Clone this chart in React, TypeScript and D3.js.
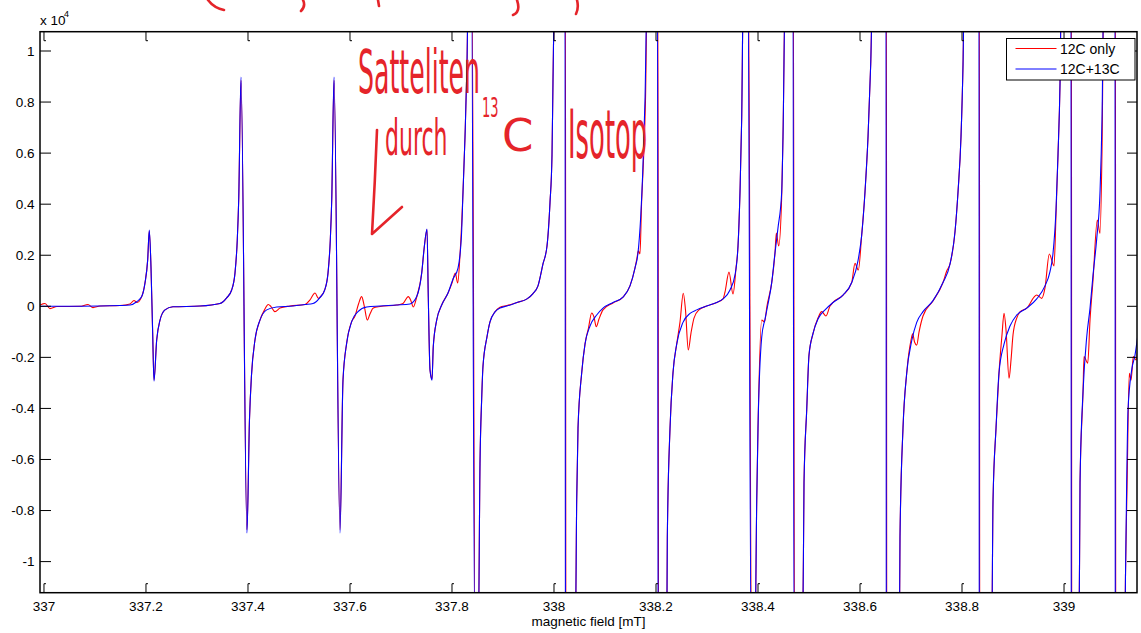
import React from 'react';
import * as d3 from 'd3';

const xTickValues = [337, 337.2, 337.4, 337.6, 337.8, 338, 338.2, 338.4, 338.6, 338.8, 339];
const xTickLabels = ['337', '337.2', '337.4', '337.6', '337.8', '338', '338.2', '338.4', '338.6', '338.8', '339'];
const yTickValues = [-1, -0.8, -0.6, -0.4, -0.2, 0, 0.2, 0.4, 0.6, 0.8, 1];
const yTickLabels = ['-1', '-0.8', '-0.6', '-0.4', '-0.2', '0', '0.2', '0.4', '0.6', '0.8', '1'];
const xDomain: [number, number] = [336.9922, 339.1431];
const yDomain: [number, number] = [-1.1218, 1.0756];
const legendLabels = ['12C only', '12C+13C'];
const seriesColors = ['#ff0000', '#0000ff'];
const xAxisTitle = 'magnetic field [mT]';

// values in units of 10^4
const series12COnly: [number, number][] = [
  [336.99, 0.003], [337.002, 0.011], [337.0118, -0.009], [337.0255, -0.001], [337.0706, 0], [337.0863, 0.007], [337.0961, -0.005], [337.1098, 0.001], [337.149, 0.003], [337.1686, 0.009], [337.1765, 0.023], [337.1824, 0.015], [337.1916, 0.038], [337.198, 0.091], [337.2033, 0.181], [337.2065, 0.295], [337.2098, 0.155], [337.2131, -0.105], [337.2157, -0.288], [337.221, -0.132], [337.2275, -0.054], [337.2373, -0.014], [337.2529, -0.002], [337.3059, 0.001],
  [337.3451, 0.011], [337.3582, 0.033], [337.368, 0.064], [337.3745, 0.13], [337.379, 0.26], [337.3818, 0.416], [337.3863, 0.885], [337.398, -0.875], [337.4029, -0.445], [337.4069, -0.269], [337.4137, -0.132], [337.4235, -0.054], [337.4324, -0.014], [337.4398, 0.007], [337.4451, -0.001], [337.4529, -0.021], [337.4627, -0.007], [337.4824, 0.001], [337.5118, 0.007], [337.5216, 0.025], [337.5314, 0.052], [337.5382, 0.031], [337.5431, 0.04], [337.5504, 0.064], [337.5569, 0.13], [337.5614, 0.26], [337.5642, 0.416], [337.5687, 0.885], [337.5804, -0.875], [337.5863, -0.289], [337.5935, -0.144], [337.6033, -0.06], [337.6098, -0.038], [337.6167, 0.009], [337.6229, 0.038], [337.628, 0.001], [337.6339, -0.054], [337.6392, -0.03], [337.6457, -0.007], [337.6588, -0.001], [337.6916, 0.005], [337.7039, 0.011], [337.7143, 0.038], [337.7196, 0.021], [337.7241, -0.003], [337.7308, 0.036], [337.7406, 0.13], [337.7457, 0.233], [337.751, 0.3], [337.7535, 0.038], [337.7569, -0.249], [337.7608, -0.285], [337.7633, -0.158], [337.77, -0.054], [337.7798, 0.005], [337.7922, 0.052], [337.8, 0.091], [337.8065, 0.13], [337.8112, 0.091], [337.8157, 0.201], [337.8216, 0.448], [337.8255, 0.663], [337.8294, 0.949], [337.8324, 1.3], [337.839, 1.3], [337.8455, -1.3], [337.8516, -1.3],
  [337.8549, -0.618], [337.8582, -0.363], [337.8608, -0.234], [337.8686, -0.12], [337.8745, -0.061], [337.8843, -0.022], [337.8941, -0.004], [337.9078, 0.003], [337.9275, 0.015], [337.9471, 0.029], [337.9588, 0.05], [337.9686, 0.08], [337.9784, 0.166], [337.9863, 0.236], [337.9922, 0.407], [337.9961, 0.593], [337.998, 0.877], [338.002, 1.3], [338.0224, 1.3], [338.0233, -1.3], [338.0418, -1.3],
  [338.0445, -0.759], [338.0471, -0.477], [338.0543, -0.261], [338.0608, -0.148], [338.0676, -0.085], [338.0739, -0.026], [338.0784, -0.042], [338.0829, -0.08], [338.0882, -0.05], [338.0961, -0.014], [338.1157, 0.013], [338.1353, 0.036], [338.149, 0.08], [338.1588, 0.15], [338.1627, 0.189], [338.1653, 0.217], [338.1686, 0.205], [338.1716, 0.397], [338.1755, 0.573], [338.1794, 0.808], [338.1833, 1.3], [338.2037, 1.3], [338.2051, -1.3], [338.221, -1.3],
  [338.2222, -0.904], [338.2275, -0.477], [338.2333, -0.261], [338.2406, -0.148], [338.2471, -0.061], [338.2535, 0.051], [338.2578, -0.014], [338.2633, -0.171], [338.2686, -0.105], [338.2745, -0.046], [338.2843, -0.014], [338.2994, 0.001], [338.319, 0.015], [338.3314, 0.029], [338.3353, 0.056], [338.3431, 0.134], [338.351, 0.048], [338.3569, 0.15], [338.3608, 0.236], [338.3647, 0.449], [338.368, 0.734], [338.3716, 1.3], [338.3812, 1.3], [338.3871, -1.3], [338.3941, -1.3],
  [338.3975, -0.761], [338.4, -0.477], [338.4073, -0.054], [338.4127, -0.061], [338.4176, 0.001], [338.4269, 0.093], [338.4333, 0.209], [338.4359, 0.287], [338.4406, 0.236], [338.4465, 0.436], [338.449, 0.663], [338.4539, 1.3], [338.4694, 1.3], [338.4714, -1.3], [338.4876, -1.3],
  [338.4902, -0.69], [338.4955, -0.406], [338.5, -0.191], [338.5078, -0.107], [338.5176, -0.046], [338.5249, -0.021], [338.5333, -0.038], [338.5412, 0.001], [338.5471, 0.015], [338.5667, 0.044], [338.5837, 0.093], [338.5902, 0.168], [338.5967, 0.142], [338.6033, 0.279], [338.6098, 0.449], [338.6157, 0.663], [338.621, 0.949], [338.6255, 1.3], [338.6518, 1.3], [338.6524, -1.3], [338.6771, -1.3],
  [338.6784, -0.904], [338.6843, -0.477], [338.6916, -0.261], [338.7, -0.132], [338.7033, -0.108], [338.7069, -0.14], [338.7112, -0.152], [338.7157, -0.101], [338.7235, -0.038], [338.7431, 0.021], [338.7627, 0.093], [338.77, 0.138], [338.7765, 0.166], [338.7863, 0.293], [338.7922, 0.449], [338.798, 0.663], [338.802, 0.949], [338.8049, 1.3], [338.8341, 1.3], [338.8347, -1.3], [338.8582, -1.3],
  [338.8608, -0.761], [338.8667, -0.477], [338.8725, -0.261], [338.8784, -0.112], [338.8824, -0.027], [338.8863, -0.093], [338.8922, -0.282], [338.8961, -0.21], [338.9, -0.112], [338.9073, -0.046], [338.9137, -0.022], [338.9269, -0.007], [338.9465, 0.044], [338.9563, 0.031], [338.9627, 0.072], [338.9712, 0.205], [338.9804, 0.158], [338.9843, 0.358], [338.9882, 0.593], [338.9922, 0.877], [338.9951, 1.3], [339.0145, 1.3], [339.0151, -1.3], [339.0294, -1.3],
  [339.0314, -0.69], [339.0373, -0.334], [339.0392, -0.197], [339.0465, -0.223], [339.051, -0.054], [339.0569, 0.103], [339.0653, 0.338], [339.0706, 0.286], [339.0745, 0.612], [339.0784, 1.3], [339.1008, 1.3], [339.1014, -1.3], [339.1192, -1.3],
  [339.1206, -1.045], [339.1235, -0.718], [339.128, -0.262], [339.1314, -0.289], [339.1359, -0.197], [339.1412, -0.21], [339.1457, -0.144],
];

const series12C13C: [number, number][] = [
  [336.99, 0], [337.0706, 0], [337.149, 0.003], [337.1686, 0.005], [337.1818, 0.018], [337.1916, 0.038], [337.198, 0.091], [337.2033, 0.181], [337.2065, 0.299], [337.2098, 0.155], [337.2131, -0.105], [337.2157, -0.293], [337.221, -0.132], [337.2275, -0.054], [337.2373, -0.014], [337.2529, -0.002], [337.3059, 0.001],
  [337.3451, 0.011], [337.3582, 0.033], [337.368, 0.064], [337.3745, 0.13], [337.379, 0.26], [337.3818, 0.416], [337.3863, 0.898], [337.398, -0.888], [337.4029, -0.445], [337.4069, -0.269], [337.4137, -0.132], [337.4235, -0.054], [337.4367, -0.014], [337.4563, -0.003], [337.4882, 0.001], [337.5118, 0.007],
  [337.5275, 0.011], [337.5406, 0.033], [337.5504, 0.064], [337.5569, 0.13], [337.5614, 0.26], [337.5642, 0.416], [337.5687, 0.898], [337.5804, -0.888], [337.5863, -0.289], [337.5935, -0.144], [337.6033, -0.06], [337.6157, -0.021], [337.6327, -0.003], [337.6588, 0.001], [337.6916, 0.005], [337.7176, 0.009],
  [337.7308, 0.038], [337.7406, 0.13], [337.7457, 0.233], [337.751, 0.303], [337.7535, 0.038], [337.7569, -0.249], [337.7608, -0.289], [337.7633, -0.158], [337.77, -0.054], [337.7798, 0.005], [337.7922, 0.052], [337.802, 0.107], [337.8118, 0.15], [337.8186, 0.279], [337.8216, 0.448], [337.8255, 0.663], [337.8294, 0.949], [337.8324, 1.3], [337.8382, 1.3], [337.8447, -1.3], [337.8516, -1.3],
  [337.8549, -0.618], [337.8582, -0.363], [337.8608, -0.234], [337.8686, -0.12], [337.8745, -0.061], [337.8843, -0.022], [337.8941, -0.007], [337.9078, 0.001], [337.9275, 0.015], [337.9471, 0.029], [337.9588, 0.05], [337.9686, 0.08], [337.9784, 0.166], [337.9863, 0.236], [337.9922, 0.407], [337.9961, 0.593], [337.998, 0.877], [338.002, 1.3], [338.0216, 1.3], [338.0225, -1.3], [338.0418, -1.3],
  [338.0445, -0.759], [338.0471, -0.477], [338.0543, -0.261], [338.0608, -0.148], [338.0706, -0.077], [338.0837, -0.034], [338.0961, -0.007], [338.1157, 0.015], [338.1353, 0.036], [338.149, 0.08], [338.1588, 0.15], [338.1647, 0.209], [338.17, 0.35], [338.1739, 0.52], [338.1784, 0.805], [338.1833, 1.3], [338.2029, 1.3], [338.2043, -1.3], [338.221, -1.3],
  [338.2222, -0.904], [338.2275, -0.477], [338.2333, -0.261], [338.2406, -0.148], [338.2529, -0.063], [338.2667, -0.028], [338.2798, -0.014], [338.2994, 0.001], [338.319, 0.015], [338.3314, 0.029], [338.3451, 0.064], [338.3549, 0.123], [338.3608, 0.236], [338.3647, 0.449], [338.368, 0.734], [338.3716, 1.3], [338.3804, 1.3], [338.3863, -1.3], [338.3941, -1.3],
  [338.3975, -0.761], [338.4, -0.477], [338.4073, -0.12], [338.4137, -0.05], [338.4196, 0.009], [338.4269, 0.093], [338.4333, 0.209], [338.4392, 0.307], [338.4465, 0.449], [338.449, 0.663], [338.4539, 1.3], [338.4686, 1.3], [338.4706, -1.3], [338.4876, -1.3],
  [338.4902, -0.69], [338.4955, -0.406], [338.5, -0.191], [338.5078, -0.107], [338.5176, -0.05], [338.5314, -0.014], [338.5471, 0.015], [338.5667, 0.044], [338.5837, 0.093], [338.5961, 0.179], [338.6033, 0.279], [338.6098, 0.449], [338.6157, 0.663], [338.621, 0.949], [338.6255, 1.3], [338.651, 1.3], [338.6516, -1.3], [338.6771, -1.3],
  [338.6784, -0.904], [338.6843, -0.477], [338.6916, -0.261], [338.7014, -0.135], [338.7112, -0.063], [338.7235, -0.021], [338.7431, 0.022], [338.7627, 0.093], [338.7765, 0.166], [338.7863, 0.293], [338.7922, 0.449], [338.798, 0.663], [338.802, 0.949], [338.8049, 1.3], [338.8333, 1.3], [338.8339, -1.3], [338.8582, -1.3],
  [338.8608, -0.761], [338.8667, -0.477], [338.8725, -0.261], [338.8824, -0.148], [338.8941, -0.077], [338.9073, -0.034], [338.9269, -0.007], [338.9465, 0.029], [338.9627, 0.08], [338.9725, 0.136], [338.9784, 0.207], [338.9843, 0.378], [338.9882, 0.593], [338.9922, 0.877], [338.9951, 1.3], [339.0137, 1.3], [339.0143, -1.3], [339.0294, -1.3],
  [339.0314, -0.69], [339.0373, -0.334], [339.0445, -0.12], [339.051, -0.007], [339.0569, 0.123], [339.0641, 0.264], [339.0706, 0.449], [339.0745, 0.734], [339.0784, 1.3], [339.1, 1.3], [339.1006, -1.3], [339.1192, -1.3],
  [339.1206, -1.045], [339.1229, -0.69], [339.1255, -0.406], [339.1327, -0.249], [339.1392, -0.191], [339.1451, -0.107],
];

const seriesList = [series12COnly, series12C13C];

export default function App() {
  const W = 1141;
  const H = 633;
  const left = 40;
  const right = 1137;
  const top = 31.7;
  const bottom = 592.7;
  const x = d3.scaleLinear().domain(xDomain).range([left, right]);
  const y = d3.scaleLinear().domain(yDomain).range([bottom, top]);
  const line = d3
    .line<[number, number]>()
    .x((d) => x(d[0]))
    .y((d) => y(d[1]))
    .curve(d3.curveMonotoneX);
  const font = '"Liberation Sans", Arial, sans-serif';
  const hand = '#e5242a';
  const handFont = '"DejaVu Sans", sans-serif';

  return (
    <svg
      width={W}
      height={H}
      viewBox={`0 0 ${W} ${H}`}
      style={{ position: 'absolute', left: 0, top: 0, background: '#fff' }}
      fontFamily={font}
    >
      <rect x={0} y={0} width={W} height={H} fill="#fff" />
      <defs>
        <clipPath id="plotclip">
          <rect x={left} y={top} width={right - left} height={bottom - top} />
        </clipPath>
      </defs>

      {/* data */}
      <g clipPath="url(#plotclip)" fill="none">
        {seriesList.map((s, i) => (
          <path key={i} d={line(s) || ''} stroke={seriesColors[i]} strokeWidth={1.1} strokeLinejoin="round" />
        ))}
      </g>

      {/* axes box */}
      <g stroke="#000" fill="none">
        <rect x={left} y={top} width={right - left} height={bottom - top} strokeWidth={1.5} />
        {xTickValues.map((v, i) => (
          <g key={i}>
            <path d={`M${x(v)},${bottom} V${bottom - 9} h2`} strokeWidth={1} />
            <path d={`M${x(v)},${top} V${top + 9} h2`} strokeWidth={1} />
          </g>
        ))}
        {yTickValues.map((v, i) => (
          <g key={i}>
            <path d={`M${left},${y(v)} H${left + 11}`} strokeWidth={1} />
            <path d={`M${right},${y(v)} H${right - 10}`} strokeWidth={1} />
          </g>
        ))}
      </g>

      {/* tick labels */}
      <g fontSize={13.5} fill="#000">
        {xTickValues.map((v, i) => (
          <text key={i} x={x(v)} y={611} textAnchor="middle">
            {xTickLabels[i]}
          </text>
        ))}
        {yTickValues.map((v, i) => (
          <text key={i} x={34.5} y={y(v)} dy="0.36em" textAnchor="end">
            {yTickLabels[i]}
          </text>
        ))}
        <text x={(left + right) / 2} y={626} textAnchor="middle">
          {xAxisTitle}
        </text>
        <text x={40} y={25}>
          x 10
        </text>
        <text x={64} y={17} fontSize={9}>
          4
        </text>
      </g>

      {/* legend */}
      <g>
        <rect x={1006.5} y={38.5} width={128.5} height={41.5} fill="#fff" stroke="#000" strokeWidth={1} />
        {legendLabels.map((lab, i) => (
          <g key={i}>
            <line x1={1015.5} x2={1056.5} y1={48.5 + i * 20.5} y2={48.5 + i * 20.5} stroke={seriesColors[i]} strokeWidth={1} />
            <text x={1060} y={53.5 + i * 20.5} fontSize={14} fill="#000">
              {lab}
            </text>
          </g>
        ))}
      </g>

      {/* handwritten annotation (horizontally squeezed like the handwriting) */}
      <g fill={hand} fontFamily={handFont}>
        <text transform="translate(358,93) scale(0.42,1)" fontSize={60}>
          Satteliten
        </text>
        <text transform="translate(385,155) scale(0.44,1)" fontSize={50}>
          durch
        </text>
        <text transform="translate(482,117) scale(0.5,1)" fontSize={26}>
          13
        </text>
        <text transform="translate(502,151)" fontSize={45}>
          C
        </text>
        <text transform="translate(568,158) scale(0.38,1)" fontSize={68}>
          Isotop
        </text>
      </g>
      <g fill="none" stroke={hand} strokeWidth={2.6} strokeLinecap="round" strokeLinejoin="round">
        <path d="M377,130 Q375,182 372,234 L402,207" />
        <path d="M208,0 Q214,8 224,10" />
        <path d="M303,0 Q306,6 301,11" />
        <path d="M378,0 L379,6" />
        <path d="M517,0 Q521,12 513,15" />
        <path d="M577,0 Q579,8 576,14" />
      </g>
    </svg>
  );
}
